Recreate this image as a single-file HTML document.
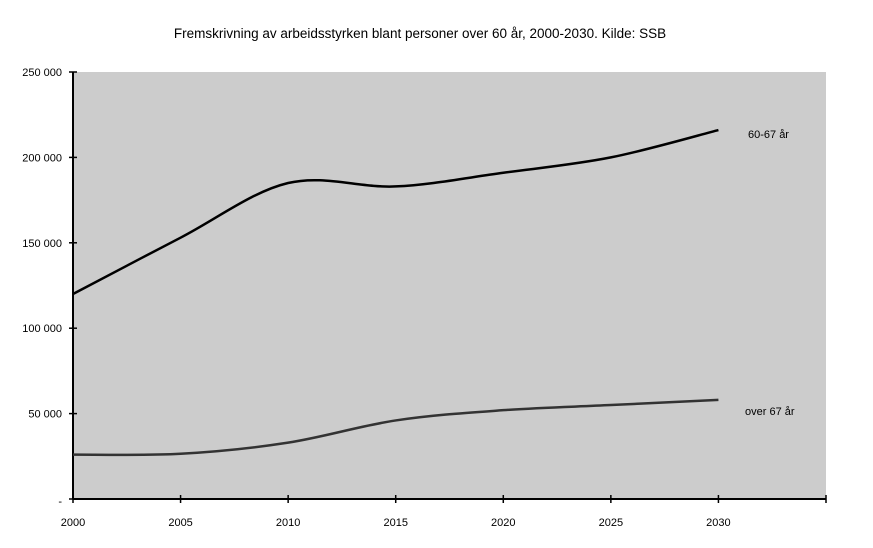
<!DOCTYPE html>
<html><head><meta charset="utf-8"><style>
body{margin:0;background:#fff;}
svg text{font-family:"Liberation Sans",sans-serif;fill:#000;}
</style></head><body>
<svg width="873" height="543">
<text x="420" y="38" text-anchor="middle" font-size="13.5">Fremskrivning av arbeidsstyrken blant personer over 60 år, 2000-2030. Kilde: SSB</text>
<rect x="73" y="72" width="753" height="427" fill="#cccccc"/>
<g id="axes"></g>
<g id="series"></g>
</svg>
<script>
const years=[2000,2005,2010,2015,2020,2025,2030];
const s1=[120000,153000,185000,183000,191000,200000,216000];
const yearsB=[2000,2005,2010,2015,2020,2025,2030];
const s2=[26000,26500,33000,46000,52000,55000,58000];
const yTicks=[0,50000,100000,150000,200000,250000];
const yLabels=["-","50 000","100 000","150 000","200 000","250 000"];
const xTicks=[2000,2005,2010,2015,2020,2025,2030,2035];
const xLabels=["2000","2005","2010","2015","2020","2025","2030",""];
const NS="http://www.w3.org/2000/svg";
const X=v=>73+(v-2000)*(753/35);
const Y=v=>499-v*(427/250000);
function mk(t,a,p){const e=document.createElementNS(NS,t);for(const k in a)e.setAttribute(k,a[k]);p.appendChild(e);return e;}
const ax=document.getElementById('axes'), sg=document.getElementById('series');
const yl=mk('line',{x1:73,y1:72,x2:73,y2:499,stroke:'#000','stroke-width':2},ax);


const xl=mk('line',{x1:73,y1:499,x2:826,y2:499,stroke:'#000','stroke-width':2},ax);


yTicks.forEach((v,i)=>{
 mk('line',{x1:69,y1:Y(v),x2:77,y2:Y(v),stroke:'#000','stroke-width':1.5},ax);
 const t=mk('text',{x:62,y:Y(v)+(i==0?6:4),'text-anchor':'end','font-size':11},ax);
 t.textContent=yLabels[i];
 
 
});
xTicks.forEach((v,i)=>{
 mk('line',{x1:X(v),y1:495,x2:X(v),y2:503,stroke:'#000','stroke-width':1.5},ax);
 const t=mk('text',{x:X(v),y:526,'text-anchor':'middle','font-size':11},ax);
 t.textContent=xLabels[i];
 
 
});
function path(xs,ys){
 const P=xs.map((x,i)=>[X(x),Y(ys[i])]);
 let d='M'+P[0][0]+','+P[0][1];
 for(let i=0;i<P.length-1;i++){
  const p0=P[Math.max(0,i-1)],p1=P[i],p2=P[i+1],p3=P[Math.min(P.length-1,i+2)];
  const c1=[p1[0]+(p2[0]-p0[0])/6,p1[1]+(p2[1]-p0[1])/6];
  const c2=[p2[0]-(p3[0]-p1[0])/6,p2[1]-(p3[1]-p1[1])/6];
  d+=' C'+c1+' '+c2+' '+p2;
 }
 return d;
}
const l1=mk('path',{d:path(years,s1),fill:'none',stroke:'#000','stroke-width':2.5},sg);


const l2=mk('path',{d:path(yearsB,s2),fill:'none',stroke:'#333','stroke-width':2.5},sg);


const t1=mk('text',{x:748,y:138,'font-size':11},sg);t1.textContent='60-67 år';


const t2=mk('text',{x:745,y:415,'font-size':11},sg);t2.textContent='over 67 år';


</script>
</body></html>
